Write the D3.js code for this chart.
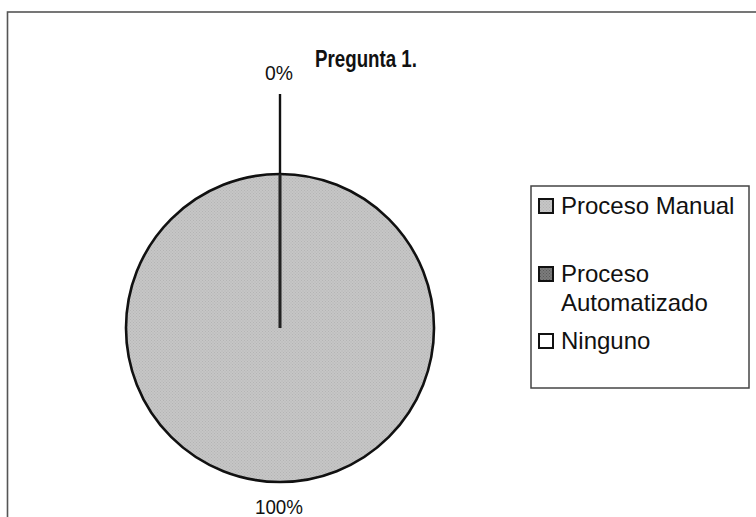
<!DOCTYPE html>
<html>
<head>
<meta charset="utf-8">
<script src="https://cdn.jsdelivr.net/npm/d3@7/dist/d3.min.js"></script>
<style>
  html, body { margin: 0; padding: 0; background: #fff; }
  svg { display: block; }
  text { font-family: "Liberation Sans", Arial, sans-serif; fill: #111; }
</style>
</head>
<body>
<svg id="chart" width="756" height="517"></svg>
<script>
// ---- data ----
const title = "Pregunta 1.";
const categories = ["Proceso Manual", "Proceso Automatizado", "Ninguno"];
const values = [100, 0, 0];
const legendLines = [["Proceso Manual"], ["Proceso", "Automatizado"], ["Ninguno"]];
const colors = ["#c6c6c6", "#7c7c7c", "#ffffff"];

// ---- layout ----
const W = 756, H = 517;
const cx = 280, cy = 328, R = 154;

const svg = d3.select("#chart");

// pattern for dotted fill texture
const defs = svg.append("defs");
function dotPattern(id, base, dot) {
  const p = defs.append("pattern").attr("id", id)
    .attr("width", 3).attr("height", 3).attr("patternUnits", "userSpaceOnUse");
  p.append("rect").attr("width", 3).attr("height", 3).attr("fill", base);
  p.append("rect").attr("x", 0).attr("y", 0).attr("width", 1).attr("height", 1).attr("fill", dot);
  p.append("rect").attr("x", 1.5).attr("y", 1.5).attr("width", 1).attr("height", 1).attr("fill", dot);
}
dotPattern("pat0", colors[0], "#b4b4b4");
dotPattern("pat1", colors[1], "#5a5a5a");
const fills = ["url(#pat0)", "url(#pat1)", colors[2]];

// outer frame (right and bottom edges fall outside the picture)
svg.append("rect")
  .attr("x", 7.5).attr("y", 12).attr("width", W + 20).attr("height", H + 20)
  .attr("fill", "none").attr("stroke", "#555").attr("stroke-width", 1.6);

// title
svg.append("text")
  .attr("x", 366).attr("y", 67)
  .attr("text-anchor", "middle")
  .attr("font-size", 23).attr("font-weight", "bold")
  .attr("textLength", 102).attr("lengthAdjust", "spacingAndGlyphs")
  .text(title);

// pie
const total = d3.sum(values);
const pie = d3.pie().sort(null).startAngle(0).endAngle(2 * Math.PI);
const arcs = pie(values);
const arc = d3.arc().innerRadius(0).outerRadius(R);
const g = svg.append("g").attr("transform", `translate(${cx},${cy})`);

g.selectAll("path.slice")
  .data(arcs.filter(d => d.value > 0))
  .join("path")
  .attr("class", "slice")
  .attr("d", arc)
  .attr("fill", d => fills[d.index])
  .attr("stroke", "#111").attr("stroke-width", 2.6);

// zero-width slices drawn as their border line (from centre to rim)
const zero = arcs.filter(d => d.value === 0);
g.selectAll("line.zero")
  .data(zero)
  .join("line")
  .attr("class", "zero")
  .attr("x1", 0).attr("y1", 0)
  .attr("x2", d => R * Math.sin(d.startAngle))
  .attr("y2", d => -R * Math.cos(d.startAngle))
  .attr("stroke", "#222").attr("stroke-width", 2.6);

// labels
const pct = d3.format(".0%");
const labelData = [];
arcs.forEach(d => {
  const mid = (d.startAngle + d.endAngle) / 2;
  const key = d.value === 0 ? "zero" : "pos";
  if (labelData.find(l => l.key === key && Math.abs(l.angle - mid) < 1e-6)) return;
  labelData.push({ key, angle: mid, text: pct(d.value / total), zero: d.value === 0 });
});

labelData.forEach(l => {
  const rText = l.zero ? R + 102 : R + 24;
  const x = rText * Math.sin(l.angle);
  const y = -rText * Math.cos(l.angle);
  if (l.zero) {
    g.append("line")
      .attr("x1", R * Math.sin(l.angle)).attr("y1", -R * Math.cos(l.angle))
      .attr("x2", (R + 80) * Math.sin(l.angle)).attr("y2", -(R + 80) * Math.cos(l.angle))
      .attr("stroke", "#111").attr("stroke-width", 2.4);
  }
  g.append("text")
    .attr("x", x - 1).attr("y", y)
    .attr("text-anchor", "middle")
    .attr("dominant-baseline", "central")
    .attr("font-size", 21)
    .attr("textLength", l.text.length * 10 + 8).attr("lengthAdjust", "spacingAndGlyphs")
    .attr("fill", "#222")
    .text(l.text);
});

// legend
const lg = svg.append("g");
lg.append("rect")
  .attr("x", 531).attr("y", 186).attr("width", 218).attr("height", 202)
  .attr("fill", "#fff").attr("stroke", "#444").attr("stroke-width", 1.5);

const rowBase = [214, 282, 349];
const lineH = 29;
categories.forEach((c, i) => {
  const base = rowBase[i];
  lg.append("rect")
    .attr("x", 539).attr("y", base - 15).attr("width", 14).attr("height", 14)
    .attr("fill", fills[i]).attr("stroke", "#111").attr("stroke-width", 2);
  legendLines[i].forEach((t, j) => {
    lg.append("text")
      .attr("x", 561).attr("y", base + j * lineH)
      .attr("font-size", 24)
      .text(t);
  });
});
</script>
</body>
</html>
